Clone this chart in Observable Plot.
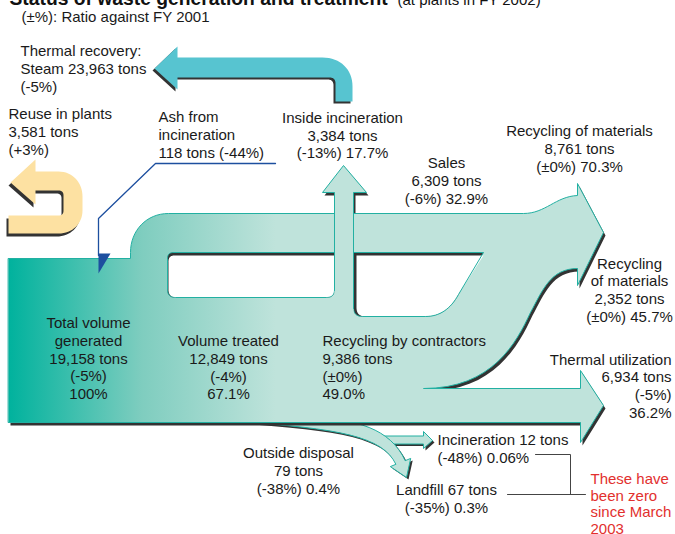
<!DOCTYPE html>
<html><head><meta charset="utf-8">
<script src="https://cdn.jsdelivr.net/npm/d3@7"></script>
<script src="https://cdn.jsdelivr.net/npm/@observablehq/plot@0.6"></script>
<style>body{margin:0;background:#fff;} #chart svg{display:block}</style>
</head><body><div id="chart"></div>
<script>
// ---------------- data ----------------
const flowKeys   = ["total","treated","contractors","sales","recMat1","recMat2","thermalUtil","insideInc","outside","incin","landfill","steam","reuse","ash"];
const flowTons   = [19158, 12849, 9386, 6309, 8761, 2352, 6934, 3384, 79, 12, 67, 23963, 3581, 118];
const flowChange = ["-5%","-4%","±0%","-6%","±0%","±0%","-5%","-13%","-38%","-48%","-35%","-5%","+3%","-44%"];
const flowShare  = ["100%","67.1%","49.0%","32.9%","70.3%","45.7%","36.2%","17.7%","0.4%","0.06%","0.3%","","",""];
const labelTemplates = [
  "Total volume\ngenerated\n{tons}\n({chg})\n{pct}",
  "Volume treated\n{tons}\n({chg})\n{pct}",
  "Recycling by contractors\n{tons}\n({chg})\n{pct}",
  "Sales\n{tons}\n({chg}) {pct}",
  "Recycling of materials\n{tons}\n({chg}) {pct}",
  "Recycling\nof materials\n{tons}\n({chg}) {pct}",
  "Thermal utilization\n{tons}\n({chg})\n{pct}",
  "Inside incineration\n{tons}\n({chg}) {pct}",
  "Outside disposal\n{tons}\n({chg}) {pct}",
  "Incineration {tons}\n({chg}) {pct}",
  "Landfill {tons}\n({chg}) {pct}",
  "Thermal recovery:\nSteam {tons}\n({chg})",
  "Reuse in plants\n{tons}\n({chg})",
  "Ash from\nincineration\n{tons} ({chg})"
];
const noteLines = ["These have","been zero","since March","2003"];
const titleText = "Status of waste generation and treatment";
const titleNote = "(at plants in FY 2002)";
const subtitleText = "(±%): Ratio against FY 2001";

// ---------------- layout ----------------
const labelLayout = {
  total:[88,357.5,"middle"], treated:[228,366.5,"middle"], contractors:[322,366.5,"start"],
  sales:[446,180,"middle"], recMat1:[579,148,"middle"], recMat2:[629,289,"middle"],
  thermalUtil:[671,385,"end"], insideInc:[342,134.5,"middle"], outside:[298,470,"middle"],
  incin:[437,447.5,"start"], landfill:[446,498,"middle"], steam:[20,68,"start"],
  reuse:[8,131,"start"], ash:[158,134,"start"]
};
const fmt = d3.format(",");
const labels = flowKeys.map((k,i)=>({
  x: labelLayout[k][0], y: labelLayout[k][1], anchor: labelLayout[k][2],
  text: labelTemplates[i].replace("{tons}", fmt(flowTons[i])+" tons").replace("{chg}", flowChange[i]).replace("{pct}", flowShare[i])
}));

// path sampler
function sample(cmds, steps=16){
  const pts=[]; let cx=0, cy=0;
  for (const c of cmds){
    const [t,...a]=c;
    if (t==="M"||t==="L"){ cx=a[0]; cy=a[1]; pts.push([cx,cy]); }
    else if (t==="C"){ const [x1,y1,x2,y2,x,y]=a;
      for(let i=1;i<=steps;i++){const s=i/steps,u=1-s;
        pts.push([u*u*u*cx+3*u*u*s*x1+3*u*s*s*x2+s*s*s*x, u*u*u*cy+3*u*u*s*y1+3*u*s*s*y2+s*s*s*y]);}
      cx=x; cy=y; }
    else if (t==="Q"){ const [x1,y1,x,y]=a;
      for(let i=1;i<=steps;i++){const s=i/steps,u=1-s;
        pts.push([u*u*cx+2*u*s*x1+s*s*x, u*u*cy+2*u*s*y1+s*s*y]);}
      cx=x; cy=y; }
  }
  return pts;
}
const shift=(p,dx,dy)=>p.map(([x,y])=>[x+dx,y+dy]);
const D=p=>p.map(([x,y])=>({x,y}));

const GRAD="#010203", LIGHT="#bfe3db", EDGE="#22b0a2", SHADOW="#333333";

const body = sample([["M",8,258],["L",130,258],["L",130,252],["C",130,230,146,213,168,213],["L",523,213],
  ["C",545,213,555,196,577,195],["L",577,183],["L",603,232],["L",577,285],["L",577,268],
  ["C",550,268,542,290,530,312],["C",516,342,492,388,423,388],["L",580,388],["L",580,370],["L",603,405],
  ["L",580,442],["L",580,422],["L",8,422]]);
const holeL = (l,t)=>sample([["M",l+6,t],["L",334,t],["L",334,289],["Q",334,297,326,297],["L",l+8,297],["Q",l,297,l,289],["L",l,t+6],["Q",l,t,l+6,t]]);
const holeR = (l,t)=>sample([["M",l,t],["L",483,t],["L",458,294],["Q",446,316,425,316],["L",l+9,316],["Q",l,316,l,307]]);
const stemFill = sample([["M",334,312],["L",334,192],["L",322,192],["L",343,165],["L",366,192],["L",353,192],["L",353,312]]);
const stemHead = sample([["M",334,216],["L",334,192],["L",322,192],["L",343,165],["L",366,192],["L",353,192],["L",353,216]]);
const stemEdge = sample([["M",334,290],["L",334,192],["L",322,192],["L",343,165],["L",366,192],["L",353,192],["L",353,308]]);
const steamArrow = sample([["M",154,68],["L",177,46],["L",177,57],["L",322,57],["C",340,57,352,69,352,86],["L",352,101],
  ["L",335,101],["L",335,83],["Q",335,77,329,77],["L",177,77],["L",177,89]]);
const reuseArrow = sample([["M",10,182],["L",35,159],["L",35,171],["L",58,171],["C",72,171,82,182,82,196],["L",82,210],
  ["C",82,223,72,233,58,233],["L",8,233],["L",8,215],["L",58,215],["Q",63,215,63,210],["L",63,195],["Q",63,190,58,190],["L",35,190],["L",35,204]]);
const incArrow = sample([["M",375,435.5],["L",423,435.5],["L",423,431],["L",432,440],["L",423,448],["L",423,443.5],["L",380,443.5]]);
const landArrow = sample([["M",310,418],["C",355,418,390,428,404.7,460.2],["L",410.2,457.9],["L",406,477],["L",389.8,466.1],["L",395.4,463.8],
  ["C",382,436,340,428,235,421]]);
const ashLine = [[275,163],[155,163],[98,218],[98,255]];
const ashHead = [[98,253],[110,253],[98,273]];
const bracket1 = [[535,454],[570,454],[570,494]];
const bracket2 = [[507,494],[585,494]];

const poly = (p, o) => Plot.line(D(p), {x:"x", y:"y", curve:"linear-closed", ...o});
const open = (p, o) => Plot.line(D(p), {x:"x", y:"y", curve:"linear", fill:"none", ...o});

const FONT = "'Liberation Sans', Arial, Helvetica, sans-serif";
const FS = 15;
const textMark = (anchor) => Plot.text(labels.filter(d=>d.anchor===anchor), {
  x:"x", y:"y", text:"text", textAnchor:anchor, lineAnchor:"middle", lineHeight:1.18,
  fontSize:FS, fontFamily:FONT, fill:"#1a1a1a"});

const svg = Plot.plot({
  width:675, height:534, margin:0,
  x:{domain:[0,675], range:[0,675], axis:null},
  y:{domain:[0,534], range:[0,534], axis:null},
  style:{background:"#fff", fontFamily:FONT},
  marks:[
    // top arrows
    poly(shift(steamArrow,-2,2), {fill:SHADOW}),
    poly(steamArrow, {fill:"#57c4d0"}),
    poly(shift(reuseArrow,-2,3), {fill:SHADOW}),
    poly(reuseArrow, {fill:"#fde1a2"}),
    // lower branches
    poly(shift(incArrow,2,2), {fill:SHADOW}),
    poly(incArrow, {fill:LIGHT, stroke:EDGE, strokeWidth:1}),
    poly(shift(landArrow,2,2), {fill:SHADOW}),
    poly(landArrow, {fill:LIGHT, stroke:EDGE, strokeWidth:1}),
    // main body
    poly(shift(stemHead,2,3), {fill:SHADOW}),
    poly(shift(body,2,3), {fill:SHADOW}),
    poly(body, {fill:GRAD, stroke:EDGE, strokeWidth:1}),
    poly(holeL(167,252), {fill:SHADOW}),
    poly(holeL(168,255), {fill:"#fff"}),
    poly(holeL(167,252), {fill:"none", stroke:EDGE, strokeWidth:1}),
    poly(holeR(353,252), {fill:SHADOW}),
    poly(holeR(356,255), {fill:"#fff"}),
    poly(holeR(353,252), {fill:"none", stroke:EDGE, strokeWidth:1}),
    poly(stemFill, {fill:LIGHT}),
    open(stemEdge, {stroke:EDGE, strokeWidth:1}),
    // ash line
    open(ashLine, {stroke:"#1d4f9f", strokeWidth:1.3}),
    poly(ashHead, {fill:"#1d4f9f"}),
    // brackets
    open(bracket1, {stroke:"#444", strokeWidth:1}),
    open(bracket2, {stroke:"#444", strokeWidth:1}),
    // texts
    Plot.text([titleText], {x:9, y:4, text:d=>d, textAnchor:"start", lineAnchor:"bottom", fontSize:19.3, fontWeight:"bold", fontFamily:FONT, fill:"#111"}),
    Plot.text([titleNote], {x:397, y:4, text:d=>d, textAnchor:"start", lineAnchor:"bottom", fontSize:15, fontFamily:FONT, fill:"#111"}),
    Plot.text([subtitleText], {x:21, y:17, text:d=>d, textAnchor:"start", lineAnchor:"middle", fontSize:FS, fontFamily:FONT, fill:"#1a1a1a"}),
    textMark("start"), textMark("middle"), textMark("end"),
    Plot.text([noteLines.join("\n")], {x:590, y:503, text:d=>d, textAnchor:"start", lineAnchor:"middle", lineHeight:1.1, fontSize:FS, fontFamily:FONT, fill:"#e2302e"})
  ]
});
const sel = d3.select(svg);
sel.insert("defs", ":first-child").html(
  '<linearGradient id="bodyGrad" gradientUnits="userSpaceOnUse" x1="8" y1="0" x2="275" y2="0">' +
  '<stop offset="0" stop-color="#00b29d"/><stop offset="0.5" stop-color="#7fcdbf"/><stop offset="1" stop-color="#bfe3db"/></linearGradient>');
sel.selectAll('[fill="#010203"]').attr("fill","url(#bodyGrad)");
document.getElementById("chart").appendChild(svg);
</script></body></html>
